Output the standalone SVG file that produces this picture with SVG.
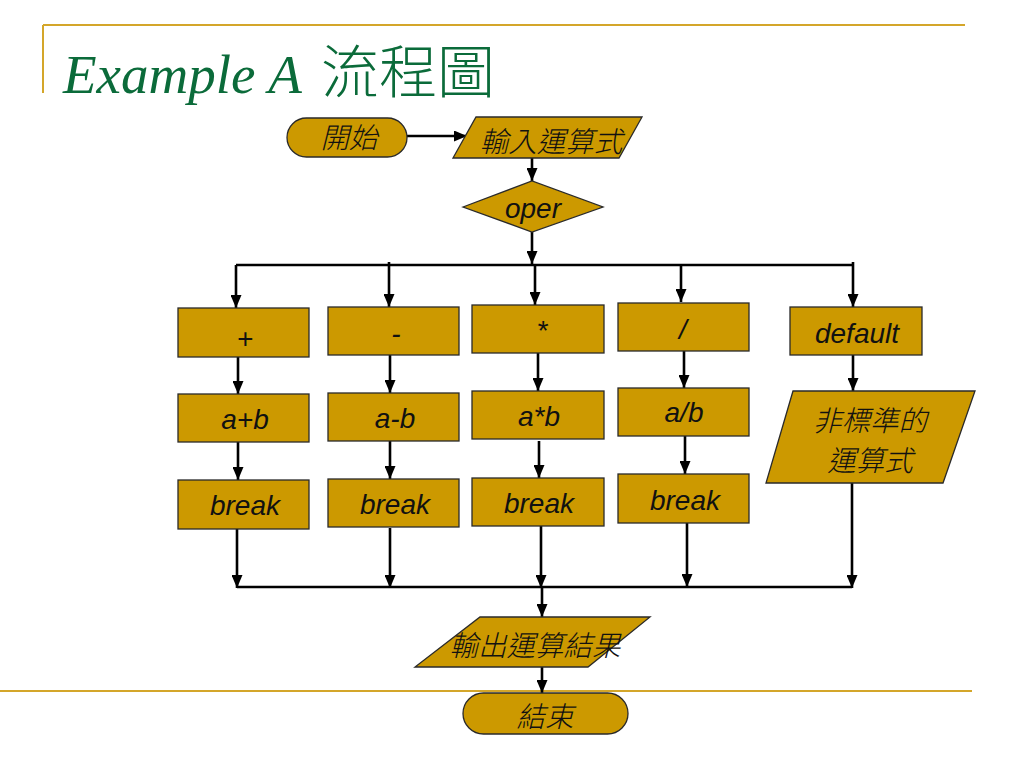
<svg xmlns="http://www.w3.org/2000/svg" width="1024" height="768" viewBox="0 0 1024 768">
<defs>
<marker id="ah" markerUnits="userSpaceOnUse" markerWidth="14" markerHeight="11" refX="13" refY="5.5" orient="auto">
<path d="M0,0 L13,5.5 L0,11 z" fill="#000"/>
</marker>
<style>
.shape{fill:#CC9900;stroke:#2a2a2a;stroke-width:1.3}
.lat{font-family:"Liberation Sans",Arial,sans-serif;font-style:italic;font-size:28px;fill:#111;text-anchor:middle}
.cjk{font-family:"Noto Sans CJK TC","Noto Sans CJK SC",sans-serif;font-style:italic;font-size:28.5px;font-weight:300;fill:#111;text-anchor:middle}
.ln{fill:none;stroke:#000;stroke-width:2.6}
.arr{fill:none;stroke:#000;stroke-width:2.6;marker-end:url(#ah)}
.gold{stroke:#D4A62A;stroke-width:2;fill:none}
</style>
</defs>
<rect width="1024" height="768" fill="#fff"/>
<g id="frame">
<path class="gold" d="M43,25 H965 M43,25 V93"/>
<path class="gold" d="M0,691 H972"/>
</g>
<g id="title" fill="#0B6B3A">
<text x="63" y="93" font-size="55" font-family="'Liberation Serif','Times New Roman',serif" font-style="italic">Example A</text>
<text x="321" y="93" font-size="58" font-family="'Noto Sans CJK TC','Noto Sans CJK SC',sans-serif" font-weight="300">流程圖</text>
</g>
<g id="connectors">
<path class="arr" d="M407,136 H467"/>
<path class="arr" d="M532,158 V181"/>
<path class="arr" d="M532,232 V264"/>
<path class="ln" d="M236,265 H853"/>
<path class="arr" d="M236,265 V308"/>
<path class="arr" d="M389,262 V307"/>
<path class="arr" d="M535,265 V305"/>
<path class="arr" d="M681,265 V302"/>
<path class="arr" d="M853,262 V307"/>
<path class="arr" d="M238,357 V394"/>
<path class="arr" d="M238,442 V480"/>
<path class="arr" d="M390,355 V393"/>
<path class="arr" d="M390,441 V479"/>
<path class="arr" d="M538,353 V391"/>
<path class="arr" d="M539,441 V478"/>
<path class="arr" d="M684,351 V388"/>
<path class="arr" d="M685,436 V474"/>
<path class="arr" d="M853,355 V391"/>
<path class="arr" d="M237,529 V588"/>
<path class="arr" d="M390,528 V588"/>
<path class="arr" d="M541,526 V588"/>
<path class="arr" d="M687,523 V587"/>
<path class="arr" d="M852,483 V588"/>
<path class="ln" d="M237,587 H852"/>
<path class="arr" d="M542,587 V617"/>
<path class="arr" d="M542,667 V693"/>
</g>
<g id="start">
<rect class="shape" x="287" y="118" width="120" height="39" rx="19.5"/>
<text class="cjk" x="349" y="148">開始</text>
</g>
<g id="input">
<polygon class="shape" points="476,117 642,117 619,158 453,158"/>
<text class="cjk" x="551" y="152">輸入運算式</text>
</g>
<g id="oper">
<polygon class="shape" points="463,207 532,181 603,207 532,232"/>
<text class="lat" x="533" y="218" font-size="25">oper</text>
</g>
<g id="plus">
<rect class="shape" x="178" y="308" width="131" height="49"/>
<text class="lat" x="245" y="348">+</text>
</g>
<g id="aplusb">
<rect class="shape" x="178" y="394" width="131" height="48"/>
<text class="lat" x="245" y="429">a+b</text>
</g>
<g id="break1">
<rect class="shape" x="178" y="480" width="131" height="49"/>
<text class="lat" x="245" y="515">break</text>
</g>
<g id="minus">
<rect class="shape" x="328" y="307" width="131" height="48"/>
<text class="lat" x="396" y="343">-</text>
</g>
<g id="aminusb">
<rect class="shape" x="328" y="393" width="131" height="48"/>
<text class="lat" x="395" y="428">a-b</text>
</g>
<g id="break2">
<rect class="shape" x="328" y="479" width="131" height="48"/>
<text class="lat" x="395" y="514">break</text>
</g>
<g id="times">
<rect class="shape" x="472" y="305" width="132" height="48"/>
<text class="lat" x="542" y="340">*</text>
</g>
<g id="atimesb">
<rect class="shape" x="472" y="391" width="132" height="48"/>
<text class="lat" x="539" y="426">a*b</text>
</g>
<g id="break3">
<rect class="shape" x="472" y="478" width="132" height="48"/>
<text class="lat" x="539" y="513">break</text>
</g>
<g id="divide">
<rect class="shape" x="618" y="303" width="131" height="48"/>
<text class="lat" x="683" y="339">/</text>
</g>
<g id="adivb">
<rect class="shape" x="618" y="388" width="131" height="48"/>
<text class="lat" x="684" y="422">a/b</text>
</g>
<g id="break4">
<rect class="shape" x="618" y="474" width="131" height="49"/>
<text class="lat" x="685" y="510">break</text>
</g>
<g id="default">
<rect class="shape" x="790" y="307" width="132" height="48"/>
<text class="lat" x="857" y="343">default</text>
</g>
<g id="nonstd">
<polygon class="shape" points="793,391 975,391 943,483 766,483"/>
<text class="cjk" x="870" y="431">非標準的</text>
<text class="cjk" x="870" y="471">運算式</text>
</g>
<g id="output">
<polygon class="shape" points="480,617 650,617 588,667 415,667"/>
<text class="cjk" x="535" y="656">輸出運算結果</text>
</g>
<g id="end">
<rect class="shape" x="463" y="693" width="165" height="41" rx="20.5"/>
<text class="cjk" x="545" y="727">結束</text>
</g>
</svg>
